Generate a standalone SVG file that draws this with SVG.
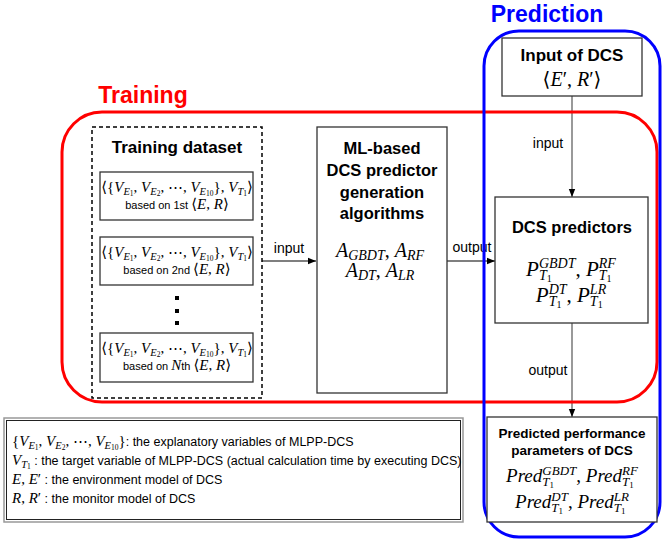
<svg xmlns="http://www.w3.org/2000/svg" width="662" height="542" viewBox="0 0 662 542">
  <defs>
    <marker id="arrow" viewBox="0 0 8 8" refX="8" refY="4" markerWidth="8" markerHeight="8" markerUnits="userSpaceOnUse" orient="auto">
      <path d="M0,0.8 L8,4 L0,7.2 Z" fill="#000"/>
    </marker>
    <style>
      .t { font-family: "Liberation Sans", Arial, sans-serif; fill: #000; }
      .b { font-weight: bold; }
      .m { font-family: "Liberation Serif", "DejaVu Serif", serif; font-size: 15px; fill: #000; }
      .i { font-style: italic; }
      .s { font-size: 10.5px; }
      .ss { font-size: 7.5px; }
      .box { fill: #fff; stroke: #333; stroke-width: 1.3; }
      .conn { fill: none; stroke: #555; stroke-width: 1.2; marker-end: url(#arrow); }
      .lbl { font-family: "Liberation Sans", Arial, sans-serif; font-size: 14px; fill: #000; text-anchor: middle; }
    </style>
  </defs>
  <rect width="662" height="542" fill="#fff"/>

  <!-- connectors -->
  <g id="connectors">
    <line class="conn" x1="262" y1="261" x2="316" y2="261" style="stroke:#000"/>
    <text class="lbl" x="289" y="253">input</text>
    <line class="conn" x1="447" y1="261" x2="495" y2="261" style="stroke:#000"/>
    <text class="lbl" x="472" y="252">output</text>
    <line class="conn" x1="572" y1="96" x2="572" y2="197"/>
    <text class="lbl" x="548" y="148">input</text>
    <line class="conn" x1="572" y1="323" x2="572" y2="417"/>
    <text class="lbl" x="548" y="375">output</text>
  </g>

  <!-- Training region -->
  <g id="training">
    <rect x="62" y="112" width="595" height="290" rx="40" ry="40" fill="none" stroke="#ff0000" stroke-width="3"/>
    <text class="t b" x="143" y="103" text-anchor="middle" style="font-size:23px;fill:#ff0000">Training</text>
  </g>

  <!-- Prediction region -->
  <g id="prediction">
    <rect x="484" y="31" width="176" height="506" rx="35" ry="35" fill="none" stroke="#0000ff" stroke-width="3"/>
    <text class="t b" x="547" y="22" text-anchor="middle" style="font-size:23px;fill:#0000ff">Prediction</text>
  </g>

  <!-- training dataset -->
  <g id="training-dataset">
    <rect x="92" y="127" width="170" height="271" fill="#fff" stroke="#000" stroke-width="1.5" stroke-dasharray="4 3"/>
    <text class="t b" x="177" y="153" text-anchor="middle" style="font-size:17px">Training dataset</text>

    <rect class="box" x="100" y="172" width="153" height="48"/>
    <text class="m" x="177" y="192" text-anchor="middle">⟨{<tspan class="i">V</tspan><tspan class="i s" dy="2.5">E</tspan><tspan class="ss" dy="1.5">1</tspan><tspan dy="-4">, </tspan><tspan class="i">V</tspan><tspan class="i s" dy="2.5">E</tspan><tspan class="ss" dy="1.5">2</tspan><tspan dy="-4">, ⋯, </tspan><tspan class="i">V</tspan><tspan class="i s" dy="2.5">E</tspan><tspan class="ss" dy="1.5">10</tspan><tspan dy="-4">}, </tspan><tspan class="i">V</tspan><tspan class="i s" dy="2.5">T</tspan><tspan class="ss" dy="1.5">1</tspan><tspan dy="-4">⟩</tspan></text>
    <text x="177" y="209" text-anchor="middle"><tspan class="t" style="font-size:11px">based on 1st </tspan><tspan class="m">⟨<tspan class="i">E</tspan>, <tspan class="i">R</tspan>⟩</tspan></text>

    <rect class="box" x="100" y="237" width="153" height="48"/>
    <text class="m" x="177" y="257" text-anchor="middle">⟨{<tspan class="i">V</tspan><tspan class="i s" dy="2.5">E</tspan><tspan class="ss" dy="1.5">1</tspan><tspan dy="-4">, </tspan><tspan class="i">V</tspan><tspan class="i s" dy="2.5">E</tspan><tspan class="ss" dy="1.5">2</tspan><tspan dy="-4">, ⋯, </tspan><tspan class="i">V</tspan><tspan class="i s" dy="2.5">E</tspan><tspan class="ss" dy="1.5">10</tspan><tspan dy="-4">}, </tspan><tspan class="i">V</tspan><tspan class="i s" dy="2.5">T</tspan><tspan class="ss" dy="1.5">1</tspan><tspan dy="-4">⟩</tspan></text>
    <text x="177" y="274" text-anchor="middle"><tspan class="t" style="font-size:11px">based on 2nd </tspan><tspan class="m">⟨<tspan class="i">E</tspan>, <tspan class="i">R</tspan>⟩</tspan></text>

    <rect x="175" y="296" width="4" height="4" fill="#000"/>
    <rect x="175" y="309" width="4" height="4" fill="#000"/>
    <rect x="175" y="321" width="4" height="4" fill="#000"/>

    <rect class="box" x="100" y="333" width="153" height="49"/>
    <text class="m" x="177" y="353" text-anchor="middle">⟨{<tspan class="i">V</tspan><tspan class="i s" dy="2.5">E</tspan><tspan class="ss" dy="1.5">1</tspan><tspan dy="-4">, </tspan><tspan class="i">V</tspan><tspan class="i s" dy="2.5">E</tspan><tspan class="ss" dy="1.5">2</tspan><tspan dy="-4">, ⋯, </tspan><tspan class="i">V</tspan><tspan class="i s" dy="2.5">E</tspan><tspan class="ss" dy="1.5">10</tspan><tspan dy="-4">}, </tspan><tspan class="i">V</tspan><tspan class="i s" dy="2.5">T</tspan><tspan class="ss" dy="1.5">1</tspan><tspan dy="-4">⟩</tspan></text>
    <text x="177" y="370" text-anchor="middle"><tspan class="t" style="font-size:11px">based on </tspan><tspan class="m i">N</tspan><tspan class="t" style="font-size:11px">th </tspan><tspan class="m">⟨<tspan class="i">E</tspan>, <tspan class="i">R</tspan>⟩</tspan></text>
  </g>

  <!-- generation algorithms -->
  <g id="ml-algorithms">
    <rect class="box" x="317" y="127" width="130" height="266"/>
    <text class="t b" x="382" y="154" text-anchor="middle" style="font-size:16.5px">ML-based</text>
    <text class="t b" x="382" y="176" text-anchor="middle" style="font-size:16.5px">DCS predictor</text>
    <text class="t b" x="382" y="198" text-anchor="middle" style="font-size:16.5px">generation</text>
    <text class="t b" x="382" y="219" text-anchor="middle" style="font-size:16.5px">algorithms</text>
    <text class="m" x="380" y="257" text-anchor="middle" style="font-size:20px"><tspan class="i">A</tspan><tspan class="i" font-size="14" dy="3">GBDT</tspan><tspan dy="-3">, </tspan><tspan class="i">A</tspan><tspan class="i" font-size="14" dy="3">RF</tspan></text>
    <text class="m" x="380" y="277" text-anchor="middle" style="font-size:20px"><tspan class="i">A</tspan><tspan class="i" font-size="14" dy="3">DT</tspan><tspan dy="-3">, </tspan><tspan class="i">A</tspan><tspan class="i" font-size="14" dy="3">LR</tspan></text>
  </g>

  <!-- input of DCS -->
  <g id="input-dcs">
    <rect class="box" x="502" y="38" width="140" height="58"/>
    <text class="t b" x="572" y="61" text-anchor="middle" style="font-size:17px">Input of DCS</text>
    <text class="m" x="572" y="86" text-anchor="middle" style="font-size:20px">⟨<tspan class="i">E</tspan>′, <tspan class="i">R</tspan>′⟩</text>
  </g>

  <!-- DCS predictors -->
  <g id="dcs-predictors">
    <rect class="box" x="495" y="197" width="153" height="126"/>
    <text class="t b" x="572" y="233" text-anchor="middle" style="font-size:16.5px">DCS predictors</text>
    <text class="m" x="571" y="276" text-anchor="middle" style="font-size:21px"><tspan class="i">P</tspan><tspan class="i" font-size="14" dy="4">T</tspan><tspan font-size="10" dy="2">1</tspan><tspan class="i" font-size="14" dx="-12.8" dy="-14">GBDT</tspan><tspan dy="8">, </tspan><tspan class="i">P</tspan><tspan class="i" font-size="14" dy="4">T</tspan><tspan font-size="10" dy="2">1</tspan><tspan class="i" font-size="14" dx="-12.8" dy="-14">RF</tspan></text>
    <text class="m" x="571" y="302" text-anchor="middle" style="font-size:21px"><tspan class="i">P</tspan><tspan class="i" font-size="14" dy="4">T</tspan><tspan font-size="10" dy="2">1</tspan><tspan class="i" font-size="14" dx="-12.8" dy="-14">DT</tspan><tspan dy="8">, </tspan><tspan class="i">P</tspan><tspan class="i" font-size="14" dy="4">T</tspan><tspan font-size="10" dy="2">1</tspan><tspan class="i" font-size="14" dx="-12.8" dy="-14">LR</tspan></text>
  </g>

  <!-- predicted performance parameters -->
  <g id="predicted-params">
    <rect class="box" x="487" y="417" width="170" height="105"/>
    <text class="t b" x="572" y="438" text-anchor="middle" style="font-size:13.5px">Predicted performance</text>
    <text class="t b" x="572" y="455" text-anchor="middle" style="font-size:13.5px">parameters of DCS</text>
    <text class="m" x="572" y="482" text-anchor="middle" style="font-size:19px"><tspan class="i">Pred</tspan><tspan class="i" font-size="13" dy="4">T</tspan><tspan font-size="9" dy="2">1</tspan><tspan class="i" font-size="13" dx="-11.7" dy="-13">GBDT</tspan><tspan dy="7">, </tspan><tspan class="i">Pred</tspan><tspan class="i" font-size="13" dy="4">T</tspan><tspan font-size="9" dy="2">1</tspan><tspan class="i" font-size="13" dx="-11.7" dy="-13">RF</tspan></text>
    <text class="m" x="572" y="508" text-anchor="middle" style="font-size:19px"><tspan class="i">Pred</tspan><tspan class="i" font-size="13" dy="4">T</tspan><tspan font-size="9" dy="2">1</tspan><tspan class="i" font-size="13" dx="-11.7" dy="-13">DT</tspan><tspan dy="7">, </tspan><tspan class="i">Pred</tspan><tspan class="i" font-size="13" dy="4">T</tspan><tspan font-size="9" dy="2">1</tspan><tspan class="i" font-size="13" dx="-11.7" dy="-13">LR</tspan></text>
  </g>

  <!-- legend -->
  <g id="legend">
    <rect x="4" y="418" width="459" height="104" fill="#fff" stroke="#999" stroke-width="1.5"/>
    <rect x="6.5" y="420.5" width="454" height="99" fill="none" stroke="#222" stroke-width="1"/>
    <text x="12" y="446"><tspan class="m">{<tspan class="i">V</tspan><tspan class="i s" dy="2.5">E</tspan><tspan class="ss" dy="1.5">1</tspan><tspan dy="-4">, </tspan><tspan class="i">V</tspan><tspan class="i s" dy="2.5">E</tspan><tspan class="ss" dy="1.5">2</tspan><tspan dy="-4">, ⋯, </tspan><tspan class="i">V</tspan><tspan class="i s" dy="2.5">E</tspan><tspan class="ss" dy="1.5">10</tspan><tspan dy="-4">}</tspan></tspan><tspan class="t" style="font-size:12.5px">: the explanatory variables of MLPP-DCS</tspan></text>
    <text x="12" y="465"><tspan class="m"><tspan class="i">V</tspan><tspan class="i s" dy="2.5">T</tspan><tspan class="ss" dy="1.5">1</tspan></tspan><tspan class="t" style="font-size:12.5px" dy="-4"> : the target variable of MLPP-DCS (actual calculation time by executing DCS)</tspan></text>
    <text x="12" y="484"><tspan class="m"><tspan class="i">E</tspan>, <tspan class="i">E</tspan>′</tspan><tspan class="t" style="font-size:12.5px"> : the environment model of DCS</tspan></text>
    <text x="12" y="503"><tspan class="m"><tspan class="i">R</tspan>, <tspan class="i">R</tspan>′</tspan><tspan class="t" style="font-size:12.5px"> : the monitor model of DCS</tspan></text>
  </g>
</svg>
